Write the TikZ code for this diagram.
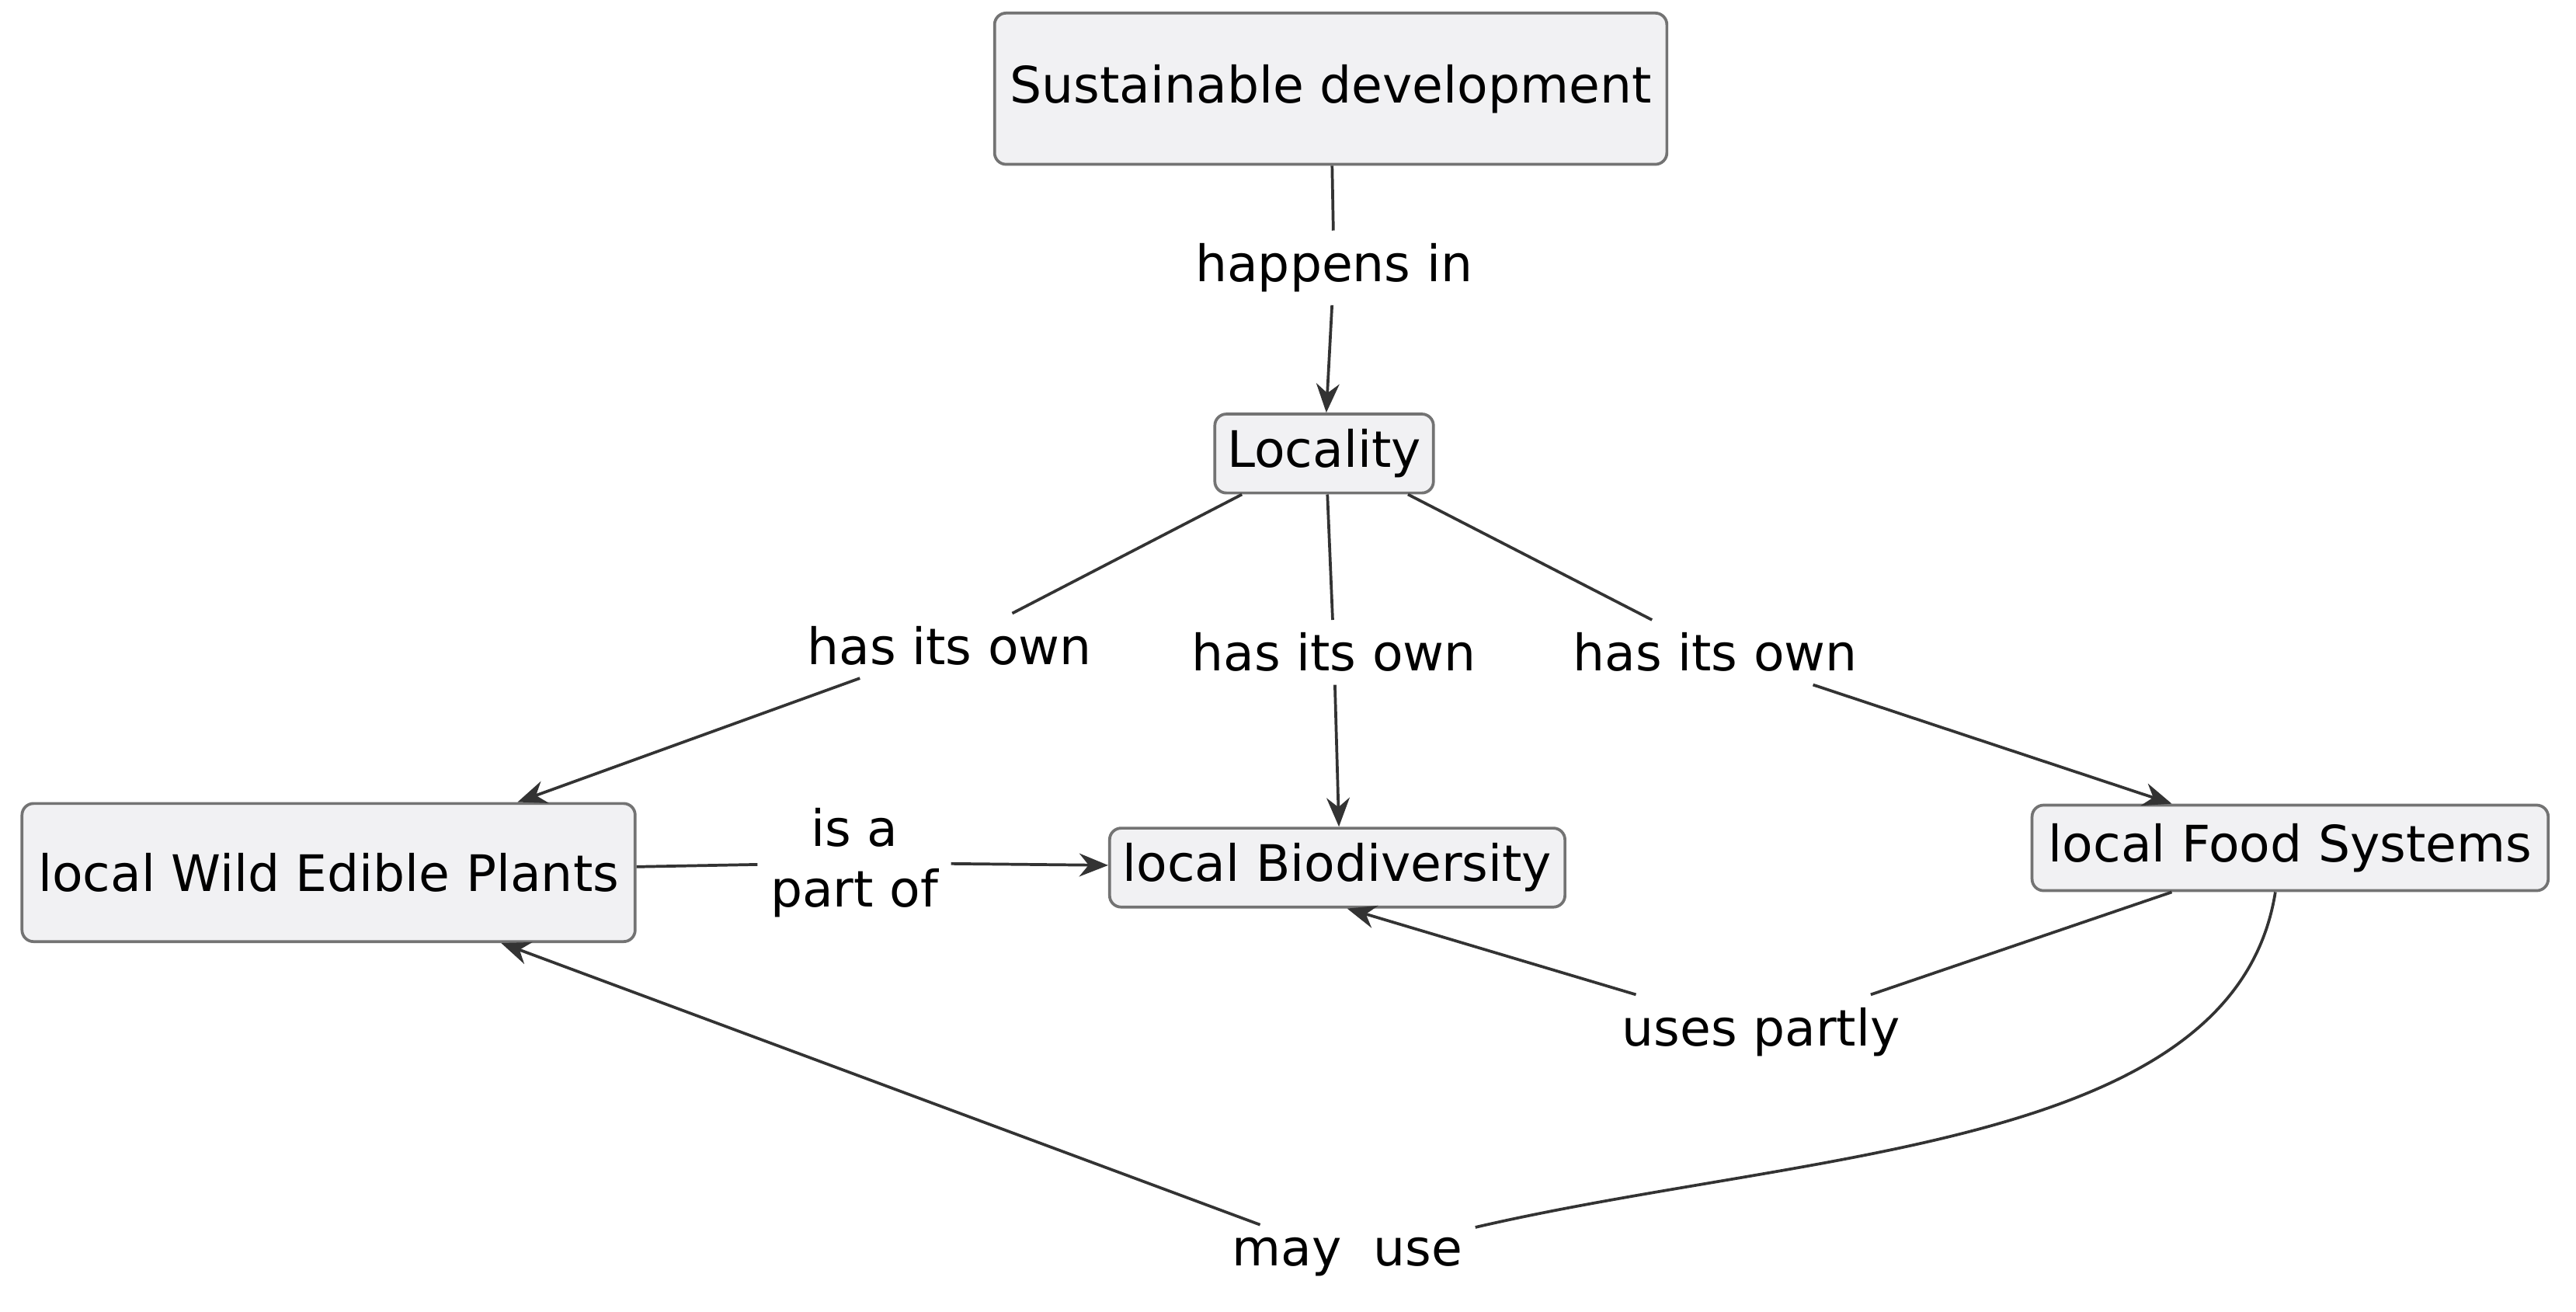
\documentclass[tikz,border=0pt]{standalone}
\usepackage{fontspec}
\setmainfont{DejaVu Sans}
\usetikzlibrary{arrows.meta}

\begin{document}
\begin{tikzpicture}[x=0.01cm,y=-0.01cm,>={Stealth[length=5pt,width=4pt]},
    draw=black!80, line width=0.5pt, font=\fontsize{8.7}{10.5}\selectfont]
    \tikzstyle{concept}=[draw=black!55,rounded corners=2pt,fill=blue!8!gray!10,inner sep=0pt]
    \tikzstyle{link}=[fill=white,inner sep=2pt,align=center]

    \useasboundingbox (0,0) rectangle (1568,798);

    % Draw the concepts
    \node[concept,minimum width=4.09cm,minimum height=0.92cm] (SD) at (810,54) {Sustainable development};
    \node[concept,minimum width=1.33cm,minimum height=0.48cm] (Loc) at (806,276) {Locality};
    \node[concept,minimum width=3.73cm,minimum height=0.84cm] (WEP) at (200,531) {local Wild Edible Plants};
    \node[concept,minimum width=2.77cm,minimum height=0.48cm] (Bio) at (814,528) {local Biodiversity};
    \node[concept,minimum width=3.14cm,minimum height=0.52cm] (Food) at (1394,516) {local Food Systems};

    % Draw the linking phrases
    \node[link] (l1) at (812,163) {happens in};
    \node[link] (l2) at (578,393) {has its own};
    \node[link] (l3) at (812,397) {has its own};
    \node[link] (l4) at (1044,397) {has its own};
    \node[link] (l5) at (520,525) {is a\\part of};
    \node[link] (l6) at (1072,628) {uses partly};
    \node[link] (l7) at (820,765) {may\ \ use};

    % Connect the concepts through the phrases
    \draw[->] (SD) -- (l1) -- (Loc);
    \draw[->] ([xshift=-0.5cm]Loc.south) -- (l2) -- ([xshift=1.15cm]WEP.north);
    \draw[->] ([xshift=0.02cm]Loc.south) -- (l3) -- ([xshift=0.01cm]Bio.north);
    \draw[->] ([xshift=0.51cm]Loc.south) -- (l4) -- ([xshift=-0.72cm]Food.north);
    \draw[->] (WEP) -- (l5) -- (Bio);
    \draw[->] ([xshift=-0.72cm]Food.south) -- (l6) -- ([xshift=0.06cm]Bio.south);
    \draw ([xshift=-0.09cm]Food.south) .. controls (1360,700) and (1100,700) .. (l7);
    \draw[->] (l7) -- ([xshift=1.05cm]WEP.south);
\end{tikzpicture}
\end{document}
